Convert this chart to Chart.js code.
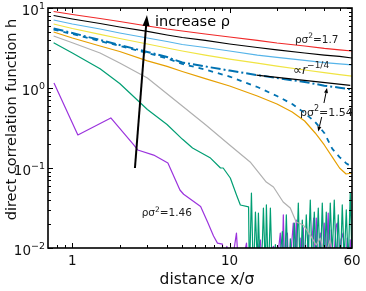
<!DOCTYPE html>
<html><head><meta charset="utf-8">
<script src="https://cdn.jsdelivr.net/npm/chart.js@4.4.1/dist/chart.umd.min.js"></script>
<style>html,body{margin:0;padding:0;background:#fff;}canvas{display:block;}</style>
</head><body>
<canvas id="c" width="366" height="291"></canvas>
<script>
// ---------- data ----------
const xsA = [0.76, 1, 1.5, 2, 3, 4, 5, 7, 10, 15, 20, 30, 40, 50, 60];
const redY = [9.04, 8.29, 7.39, 6.78, 5.96, 5.46, 5.16, 4.73, 4.34, 3.93, 3.65, 3.35, 3.12, 2.99, 2.90];
const blackY = [8.06, 7.29, 6.40, 5.79, 5.09, 4.60, 4.28, 3.93, 3.55, 3.21, 2.99, 2.74, 2.58, 2.48, 2.37];
const lightBlueY = [7.08, 6.31, 5.46, 4.87, 4.22, 3.81, 3.50, 3.21, 2.90, 2.58, 2.41, 2.21, 2.08, 2.00, 1.94];
const yellowY = [6.31, 5.54, 4.67, 4.16, 3.55, 3.16, 2.90, 2.58, 2.30, 2.05, 1.88, 1.68, 1.56, 1.47, 1.41];
const dashDotY = [5.54, 4.87, 3.98, 3.45, 2.82, 2.44, 2.08, 1.86, 1.65, 1.45, 1.33, 1.19, 1.07, 1.01, 0.958];

const xsB = [0.76, 1, 1.5, 2, 3, 4, 5, 7, 10, 15, 20, 25, 30, 35, 40, 45, 50, 55, 60];
const dashedY = [5.38, 4.73, 3.87, 3.35, 2.74, 2.34, 2.00, 1.70, 1.39, 1.03, 0.794, 0.631, 0.487, 0.376, 0.274, 0.173, 0.137, 0.115, 0.103];
const orangeY = [5.01, 4.22, 3.35, 2.86, 2.18, 1.86, 1.61, 1.31, 1.06, 0.794, 0.631, 0.501, 0.387, 0.274, 0.194, 0.137, 0.100, 0.0841, 0.0866];

const grayX = [0.76, 1, 1.5, 2, 3, 5, 7, 10, 13.5, 17.1, 19, 21.9, 24.3, 26.5, 29.4, 32.6, 35.5, 37.7, 40.5, 43.6, 46.9];
const grayY = [4.47, 3.68, 2.74, 2.05, 1.33, 0.596, 0.350, 0.194, 0.119, 0.0668, 0.0579, 0.0376, 0.0316, 0.0211, 0.0194, 0.0145, 0.0109, 0.0133, 0.008, 0.0126, 0.006];

const greenX = [0.76, 1, 1.5, 2, 3, 4, 5, 5.81, 7.56, 8.75, 9.1, 10.1, 11.06, 11.7, 13.2,
  13.36, 13.76, 14.17, 14.59, 15.02, 15.24, 15.69, 16.16, 16.40, 16.89, 17.13, 17.64, 18.16, 18.70,
  19.54, 20.41, 21.64, 22.28, 22.94, 23.62, 24.32, 25.04, 25.78, 26.55, 27.34, 28.14, 28.98, 29.84,
  30.72, 31.64, 32.58, 33.54, 34.54, 35.56, 36.62, 37.71, 38.83, 39.98, 41.17, 42.39, 43.65, 44.95,
  46.28, 47.66, 49.07, 50.53, 52.03, 53.58, 55.17, 56.81, 58.48, 59.77];
const greenY = [3.68, 2.74, 1.74, 1.14, 0.538, 0.35, 0.23, 0.178, 0.133, 0.100, 0.100, 0.075, 0.046, 0.0345, 0.0326,
  0.004, 0.0487, 0.004, 0.0282, 0.006, 0.0274, 0.004, 0.012, 0.0316, 0.005, 0.0345, 0.004, 0.0316, 0.004,
  0.011, 0.004, 0.016, 0.004, 0.0259, 0.004, 0.013, 0.004, 0.0205, 0.006, 0.0365, 0.004, 0.0224, 0.005,
  0.0259, 0.008, 0.0398, 0.005, 0.0282, 0.007, 0.0316, 0.005, 0.0365, 0.006, 0.0282, 0.005, 0.0365, 0.008,
  0.0398, 0.006, 0.0259, 0.005, 0.0345, 0.007, 0.0299, 0.006, 0.0487, 0.010];

const purpleX = [0.764, 1.084, 1.756, 2.457, 2.604, 3.29, 4.05, 4.83, 5.1, 6.54, 7.24, 7.9, 8.37, 9.0,
  9.2, 9.6, 10.0, 11.05, 11.5, 12.8, 13.2, 15.7, 16.1, 19.0, 19.5, 21.0, 21.5, 21.95, 22.5, 23.3, 23.8,
  25.4, 25.9, 26.55, 27.0, 28.1, 28.6, 29.4, 30.0, 31.6, 32.2, 34.24, 34.9, 35.56, 36.3, 37.7, 38.5,
  39.95, 40.7, 42.36, 43.2, 44.3, 45.2, 47.66, 48.4, 49.3, 51.0, 52.7, 53.8, 56.0, 57.0, 58.48, 59.8];
const purpleY = [1.155, 0.259, 0.422, 0.194, 0.168, 0.145, 0.1155, 0.0531, 0.047, 0.033, 0.0211, 0.0141, 0.0115, 0.0112,
  0.004, 0.0105, 0.004, 0.0154, 0.004, 0.0115, 0.004, 0.0126, 0.004, 0.0105, 0.004, 0.0154, 0.004, 0.0259, 0.004, 0.0154, 0.004,
  0.0205, 0.006, 0.0224, 0.004, 0.0133, 0.004, 0.0178, 0.004, 0.0145, 0.005, 0.0237, 0.004, 0.0237, 0.006, 0.0154, 0.004,
  0.0205, 0.005, 0.0274, 0.004, 0.0168, 0.005, 0.0194, 0.0205, 0.004, 0.0126, 0.0154, 0.004, 0.0133, 0.004, 0.0126, 0.005];

const refX = [14.8, 58.5];
const refY = [1.45, 1.08];

// tick values
const xMajor = [1, 10];
const xMinor = [0.8, 0.9, 2, 3, 4, 5, 6, 7, 8, 9, 20, 30, 40, 50];
const xTickLabels = [[1, '1'], [10, '10'], [60, '60']];
const yMajor = [0.01, 0.1, 1, 10];
const yTickSup = ['−2', '−1', '0', '1'];
const yMinor = [];
[0.01, 0.1, 1].forEach(d => { for (let k = 2; k <= 9; k++) yMinor.push(d * k); });

// ---------- chart ----------
const pts = (xs, ys) => xs.map((v, i) => ({x: v, y: ys[i]}));
function ds(data, color, width, dash) {
  return {data, borderColor: color, borderWidth: width, borderDash: dash || [], pointRadius: 0,
    fill: false, tension: 0, showLine: true, borderJoinStyle: 'round'};
}
const F = '"DejaVu Sans", sans-serif';

function drawParts(ctx, parts, x, y, align) {
  let w = 0;
  parts.forEach(p => { ctx.font = (p[3] || '') + ' ' + p[1] + 'px ' + F; w += ctx.measureText(p[0]).width; });
  let cx = align === 'right' ? x - w : align === 'center' ? x - w / 2 : x;
  ctx.textAlign = 'left'; ctx.textBaseline = 'alphabetic';
  parts.forEach(p => {
    ctx.font = (p[3] || '') + ' ' + p[1] + 'px ' + F;
    ctx.fillText(p[0], cx, y - (p[2] || 0));
    cx += ctx.measureText(p[0]).width;
  });
}
function arrow(ctx, x1, y1, x2, y2, lw, hl, hw) {
  const a = Math.atan2(y2 - y1, x2 - x1);
  const bx = x2 - hl * Math.cos(a), by = y2 - hl * Math.sin(a);
  ctx.lineWidth = lw; ctx.beginPath(); ctx.moveTo(x1, y1); ctx.lineTo(bx, by); ctx.stroke();
  ctx.beginPath(); ctx.moveTo(x2, y2);
  ctx.lineTo(bx + hw / 2 * Math.sin(a), by - hw / 2 * Math.cos(a));
  ctx.lineTo(bx - hw / 2 * Math.sin(a), by + hw / 2 * Math.cos(a));
  ctx.closePath(); ctx.fill();
}

const decor = {
  id: 'decor',
  afterDraw(chart) {
    const {ctx, chartArea: a, scales: {x, y}} = chart;
    const X = v => x.getPixelForValue(v), Y = v => y.getPixelForValue(v);
    ctx.save();
    ctx.strokeStyle = '#000'; ctx.fillStyle = '#000';
    const seg = (x1, y1, x2, y2) => { ctx.beginPath(); ctx.moveTo(x1, y1); ctx.lineTo(x2, y2); ctx.stroke(); };
    ctx.lineWidth = 1;
    xMajor.forEach(v => { const p = Math.round(X(v)) + 0.5; seg(p, a.bottom, p, a.bottom - 5); seg(p, a.top, p, a.top + 5); });
    xMinor.forEach(v => { const p = Math.round(X(v)) + 0.5; seg(p, a.bottom, p, a.bottom - 3); seg(p, a.top, p, a.top + 3); });
    yMajor.forEach(v => { const p = Math.round(Y(v)) + 0.5; seg(a.left, p, a.left + 5, p); seg(a.right, p, a.right - 5, p); });
    yMinor.forEach(v => { const p = Math.round(Y(v)) + 0.5; seg(a.left, p, a.left + 3, p); seg(a.right, p, a.right - 3, p); });
    ctx.lineWidth = 1.6;
    ctx.strokeRect(a.left, a.top, a.right - a.left, a.bottom - a.top);

    // tick labels
    ctx.fillStyle = '#111';
    yMajor.forEach((v, i) => {
      drawParts(ctx, [['10', 13.5, 0], [yTickSup[i], 9.5, 6]], a.left - 3, Y(v) + 6.5, 'right');
    });
    xTickLabels.forEach(t => drawParts(ctx, [[t[1], 13.5, 0]], X(t[0]), a.bottom + 17, 'center'));

    // axis titles
    drawParts(ctx, [['distance x/σ', 15.5, 0]], 207, 283.5, 'center');
    ctx.save(); ctx.translate(15.5, 119.5); ctx.rotate(-Math.PI / 2);
    drawParts(ctx, [['direct correlation function h', 14.5, 0]], 0, 0, 'center');
    ctx.restore();

    // annotations
    ctx.fillStyle = '#000'; ctx.strokeStyle = '#000';
    arrow(ctx, X(2.50), Y(0.1), X(2.98), Y(8.17), 2, 11, 7);
    drawParts(ctx, [['increase ρ', 14.5, 0]], X(3.35), Y(6.04), 'left');
    ctx.fillStyle = '#222';
    drawParts(ctx, [['ρσ', 10.5, 0], ['2', 7.5, 4.5], ['=1.7', 10.5, 0]], X(26.0), Y(3.68), 'left');
    drawParts(ctx, [['∝', 12.5, 0], ['r', 12.5, 0, 'italic'], ['−1/4', 9, 5.5]], X(25.3), Y(1.50), 'left');
    drawParts(ctx, [['ρσ', 11, 0], ['2', 8, 5], ['=1.54', 11, 0]], X(28.0), Y(0.453), 'left');
    drawParts(ctx, [['ρσ', 10.5, 0], ['2', 7.5, 4.5], ['=1.46', 10.5, 0]], X(2.76), Y(0.0248), 'left');
    ctx.fillStyle = '#000';
    arrow(ctx, X(39.8), Y(0.649), X(41.6), Y(1.0), 1, 5, 4);
    arrow(ctx, X(38.5), Y(0.434), X(36.6), Y(0.286), 1, 5, 4);
    ctx.restore();
  }
};

new Chart(document.getElementById('c'), {
  type: 'scatter',
  data: {
    datasets: [
      ds(pts(xsA, redY), '#f02828', 1.2),
      ds(pts(xsA, blackY), '#000000', 1.2),
      ds(pts(xsA, lightBlueY), '#56B4E9', 1.2),
      ds(pts(xsA, yellowY), '#F0E442', 1.2),
      ds(pts(refX, refY), '#000000', 1.2),
      ds(pts(xsA, dashDotY), '#0072B2', 2, [10, 3, 2, 3]),
      ds(pts(xsB, dashedY), '#0072B2', 1.8, [5, 5]),
      ds(pts(xsB, orangeY), '#E69F00', 1.2),
      ds(pts(grayX, grayY), '#b0b0b0', 1.2),
      ds(pts(greenX, greenY), '#009E73', 1.2),
      ds(pts(purpleX, purpleY), '#9b33dd', 1.2)
    ]
  },
  options: {
    responsive: false, animation: false, devicePixelRatio: 1,
    layout: {padding: {left: 48, right: 14, top: 8, bottom: 43}},
    plugins: {legend: {display: false}, tooltip: {enabled: false}},
    scales: {
      x: {type: 'logarithmic', min: 0.7, max: 60, display: false},
      y: {type: 'logarithmic', min: 0.01, max: 10, display: false}
    }
  },
  plugins: [decor]
});
</script>
</body></html>
